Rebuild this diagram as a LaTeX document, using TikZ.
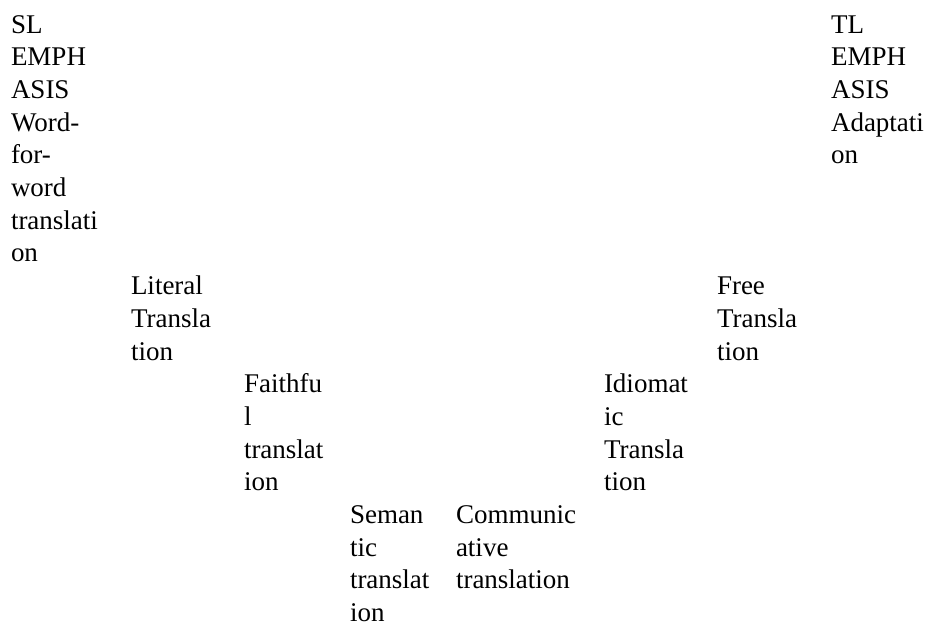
\documentclass[tikz,border=0pt]{standalone}
\usepackage{fontspec}
\setmainfont{Liberation Serif}
\begin{document}
\begin{tikzpicture}[x=1pt,y=-1pt,
  cell/.style={anchor=north west,inner sep=0pt,outer sep=0pt,align=left,
    font=\fontsize{27}{32.7}\selectfont,text=black}]
\useasboundingbox (0,0) rectangle (930,622);
\def\rA{33}
\def\rB{294.6}
\def\rC{392.7}
\def\rD{523.5}
\def\up{22.89}
\node[cell] (sl) at (11,\rA-\up) {\strut SL\\EMPH\\ASIS\\Word-\\for-\\word\\translati\\on};
\node[cell] (lit) at (131,\rB-\up) {\strut Literal\\Transla\\tion};
\node[cell] (fai) at (244,\rC-\up) {\strut Faithfu\\l\\translat\\ion};
\node[cell] (sem) at (350,\rD-\up) {\strut Seman\\tic\\translat\\ion};
\node[cell] (com) at (456,\rD-\up) {\strut Communic\\ative\\translation};
\node[cell] (idi) at (604,\rC-\up) {\strut Idiomat\\ic\\Transla\\tion};
\node[cell] (fre) at (717,\rB-\up) {\strut Free\\Transla\\tion};
\node[cell] (tl) at (831,\rA-\up) {\strut TL\\EMPH\\ASIS\\Adaptati\\on};
\end{tikzpicture}
\end{document}
